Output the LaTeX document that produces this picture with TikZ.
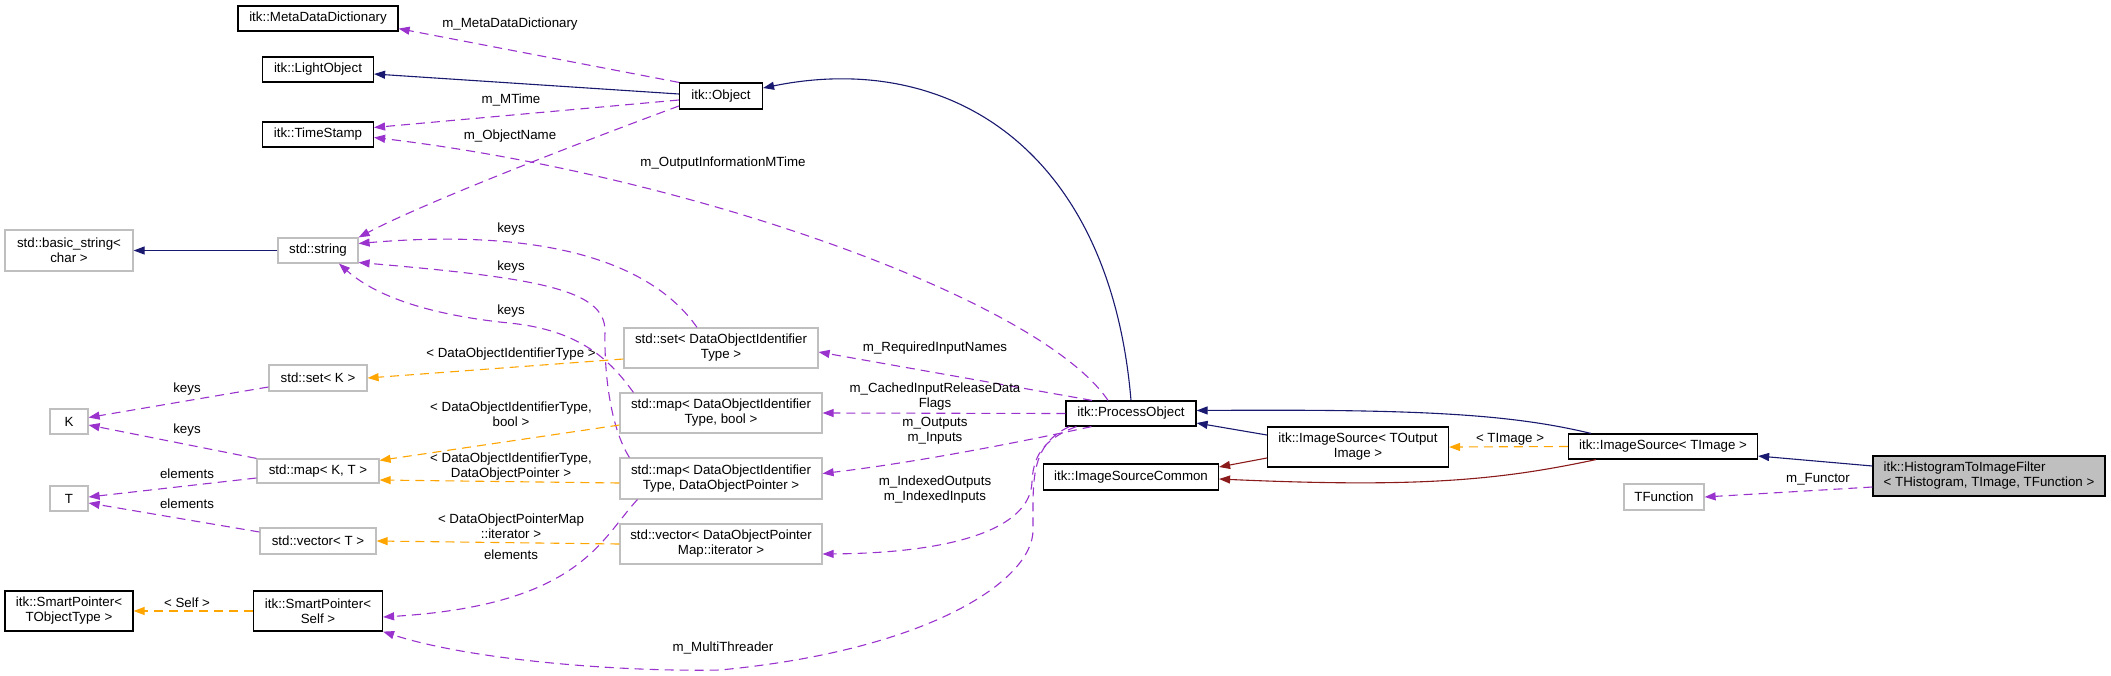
\documentclass[tikz,border=0pt]{standalone}
\usepackage{fontspec}
\setmainfont{Liberation Sans}
\usetikzlibrary{arrows.meta}
\definecolor{cnavy}{HTML}{191970}
\definecolor{cpurple}{HTML}{9A32CD}
\definecolor{corange}{HTML}{FFA500}
\definecolor{cred}{HTML}{8B1A1A}
\definecolor{cgrey}{HTML}{BFBFBF}
\tikzset{
  every picture/.style={line width=1.1pt},
  box/.style={draw=#1, fill=white, line width=1.2pt, align=center, inner sep=0pt, font=\fontsize{13.3}{15}\selectfont},
  box/.default=black,
  wh/.style 2 args={minimum width=#1pt, minimum height=#2pt},
  lbl/.style={font=\fontsize{13.3}{15}\selectfont, align=center, inner sep=0pt},
  inherit/.style={-{Triangle[length=11pt, width=8pt]}, draw=cnavy},
  privinh/.style={-{Triangle[length=11pt, width=8pt]}, draw=cred},
  member/.style={-{Triangle[length=11pt, width=8pt]}, draw=cpurple, dash pattern=on 9pt off 6pt},
  tmpl/.style={-{Triangle[length=11pt, width=8pt]}, draw=corange, dash pattern=on 9pt off 6pt},
}
\begin{document}
\begin{tikzpicture}[x=1pt, y=-1pt]
  \useasboundingbox (0,0) rectangle (2111,675);
  % classes
  \node[box, wh={160}{25}] (meta) at (318,18.5) {itk::MetaDataDictionary};
  \node[box, wh={111}{25}] (light) at (318,69.5) {itk::LightObject};
  \node[box, wh={83}{26}] (obj) at (721,96) {itk::Object};
  \node[box, wh={111}{25}] (stamp) at (318,134.5) {itk::TimeStamp};
  \node[box=cgrey, wh={128}{41}] (bstr) at (69,250.5) {std::basic\_string<\\char >};
  \node[box=cgrey, wh={80}{25}] (str) at (318,250.5) {std::string};
  \node[box=cgrey, wh={194}{40}] (setdo) at (721,348) {std::set< DataObjectIdentifier\\Type >};
  \node[box=cgrey, wh={98}{26}] (setk) at (318,378) {std::set< K >};
  \node[box=cgrey, wh={38}{25}] (K) at (69,421.5) {K};
  \node[box=cgrey, wh={202}{40}] (mapbool) at (721,413) {std::map< DataObjectIdentifier\\Type, bool >};
  \node[box, wh={130}{25}] (proc) at (1131,413.5) {itk::ProcessObject};
  \node[box=cgrey, wh={122}{24}] (mapkt) at (318,471) {std::map< K, T >};
  \node[box=cgrey, wh={38}{25}] (T) at (69,498.5) {T};
  \node[box=cgrey, wh={202}{41}] (mapptr) at (721,478.5) {std::map< DataObjectIdentifier\\Type, DataObjectPointer >};
  \node[box=cgrey, wh={116}{26}] (vect) at (318,541) {std::vector< T >};
  \node[box=cgrey, wh={202}{40}] (vecit) at (721,544) {std::vector< DataObjectPointer\\Map::iterator >};
  \node[box, wh={128}{40}] (spobj) at (69,611) {itk::SmartPointer<\\TObjectType >};
  \node[box, wh={129}{40}] (spself) at (318,611) {itk::SmartPointer<\\Self >};
  \node[box, wh={175}{26}] (common) at (1131,477) {itk::ImageSourceCommon};
  \node[box, wh={181}{40}] (srcout) at (1358,447) {itk::ImageSource< TOutput\\Image >};
  \node[box, wh={189}{25}] (srcimg) at (1663,446.5) {itk::ImageSource< TImage >};
  \node[box, fill=cgrey, wh={232}{40}, align=left] (filter) at (1989,476) {itk::HistogramToImageFilter\\< THistogram, TImage, TFunction >};
  \node[box=cgrey, wh={80}{26}] (tfunc) at (1664,497) {TFunction};

  % public inheritance
  \draw[inherit] ([yshift=2pt]obj.west) -- ([yshift=-4.5pt]light.east);
  \draw[inherit] (proc.north) .. controls (1110,150) and (950,50) .. ([yshift=8pt]obj.east);
  \draw[inherit] (str.west) -- (bstr.east);
  \draw[inherit] ([yshift=12pt]srcout.west) -- ([yshift=-9.5pt]proc.east);
  \draw[inherit] ([xshift=23pt]srcimg.north west) .. controls (1510,414) and (1420,409) .. ([yshift=3pt]proc.east);
  \draw[inherit] ([yshift=10pt]filter.west) -- ([yshift=-9.5pt]srcimg.east);

  % private inheritance
  \draw[privinh] ([yshift=-11pt]srcout.west) -- ([yshift=10pt]common.east);
  \draw[privinh] ([xshift=28pt]srcimg.south west) .. controls (1500,480) and (1420,488) .. ([yshift=-2pt]common.east);

  % members
  \draw[member] (obj.north west) -- ([yshift=3pt]meta.south east)
    node[lbl] at (510,24) {m\_MetaDataDictionary};
  \draw[member] ([yshift=-4pt]obj.west) -- ([yshift=7pt]stamp.east)
    node[lbl] at (511,100) {m\_MTime};
  \draw[member] ([yshift=-10pt]obj.west) .. controls (560,150) and (420,205) .. (str.north east)
    node[lbl] at (510,136) {m\_ObjectName};
  \draw[member] ([xshift=-23pt]proc.north) .. controls (1040,300) and (690,175) .. ([yshift=-3pt]stamp.east)
    node[lbl] at (723,163) {m\_OutputInformationMTime};
  \draw[member] ([xshift=-24pt]setdo.north) .. controls (650,260) and (540,228) .. ([yshift=7pt]str.east)
    node[lbl] at (511,229) {keys};
  \draw[member] ([xshift=10pt]mapptr.north west) .. controls (612,430) and (604,380) .. (605,330)
    .. controls (604,290) and (540,278) .. ([yshift=-12pt]str.east)
    node[lbl] at (511,267) {keys};
  \draw[member] ([xshift=14pt]mapbool.north west) .. controls (610,360) and (580,330) .. (509,323)
    .. controls (440,316) and (380,300) .. ([xshift=21pt]str.south)
    node[lbl] at (511,311) {keys};
  \draw[member] ([xshift=-39pt]proc.north) -- ([yshift=-4pt]setdo.east)
    node[lbl] at (935,348) {m\_RequiredInputNames};
  \draw[member] (proc.west) -- (mapbool.east)
    node[lbl] at (935,397) {m\_CachedInputReleaseData\\Flags};
  \draw[member] ([xshift=26pt]proc.south west) .. controls (1030,440) and (920,462) .. ([yshift=5pt]mapptr.east)
    node[lbl] at (935,431) {m\_Outputs\\m\_Inputs};
  \draw[member] ([xshift=11pt]proc.south west) .. controls (1040,440) and (1033,460) .. (1032,482)
    .. controls (1030,530) and (950,553) .. ([yshift=-10pt]vecit.east)
    node[lbl] at (935,489.5) {m\_IndexedOutputs\\m\_IndexedInputs};
  \draw[member] ([xshift=4pt]proc.south west) .. controls (1030,445) and (1033,480) .. (1033,530)
    .. controls (1033,580) and (930,650) .. (720,670)
    .. controls (620,672) and (470,660) .. (spself.south east)
    node[lbl] at (723,648) {m\_MultiThreader};
  \draw[member] ([xshift=18pt]mapptr.south west) .. controls (600,540) and (580,605) .. ([yshift=-6pt]spself.east)
    node[lbl] at (511,555) {elements};
  \draw[member] ([yshift=-11pt]filter.west) -- (tfunc.east)
    node[lbl] at (1818,479) {m\_Functor};
  \draw[member] ([yshift=-9pt]setk.west) -- ([yshift=4pt]K.east)
    node[lbl] at (187,389) {keys};
  \draw[member] (mapkt.north west) -- ([yshift=-3.5pt]K.east)
    node[lbl] at (187,430) {keys};
  \draw[member] ([yshift=-7pt]mapkt.west) -- ([yshift=1.5pt]T.east)
    node[lbl] at (187,474) {elements};
  \draw[member] ([yshift=9pt]vect.west) -- ([yshift=-4.5pt]T.east)
    node[lbl] at (187,504) {elements};

  % template instances
  \draw[tmpl] ([yshift=-11pt]setdo.west) -- (setk.east)
    node[lbl] at (511,354) {< DataObjectIdentifierType >};
  \draw[tmpl] ([yshift=-12pt]mapbool.west) -- ([yshift=-2pt]mapkt.north east)
    node[lbl] at (511,414) {< DataObjectIdentifierType,\\bool >};
  \draw[tmpl] ([yshift=-4.5pt]mapptr.west) -- ([yshift=-9pt]mapkt.east)
    node[lbl] at (511,467) {< DataObjectIdentifierType,\\DataObjectPointer >};
  \draw[tmpl] (vecit.west) -- (vect.east)
    node[lbl] at (511,526.5) {< DataObjectPointerMap\\::iterator >};
  \draw[tmpl] (spself.west) -- (spobj.east)
    node[lbl] at (187,603) {< Self >};
  \draw[tmpl] (srcimg.west) -- (srcout.east)
    node[lbl] at (1510,439) {< TImage >};
\end{tikzpicture}
\end{document}
